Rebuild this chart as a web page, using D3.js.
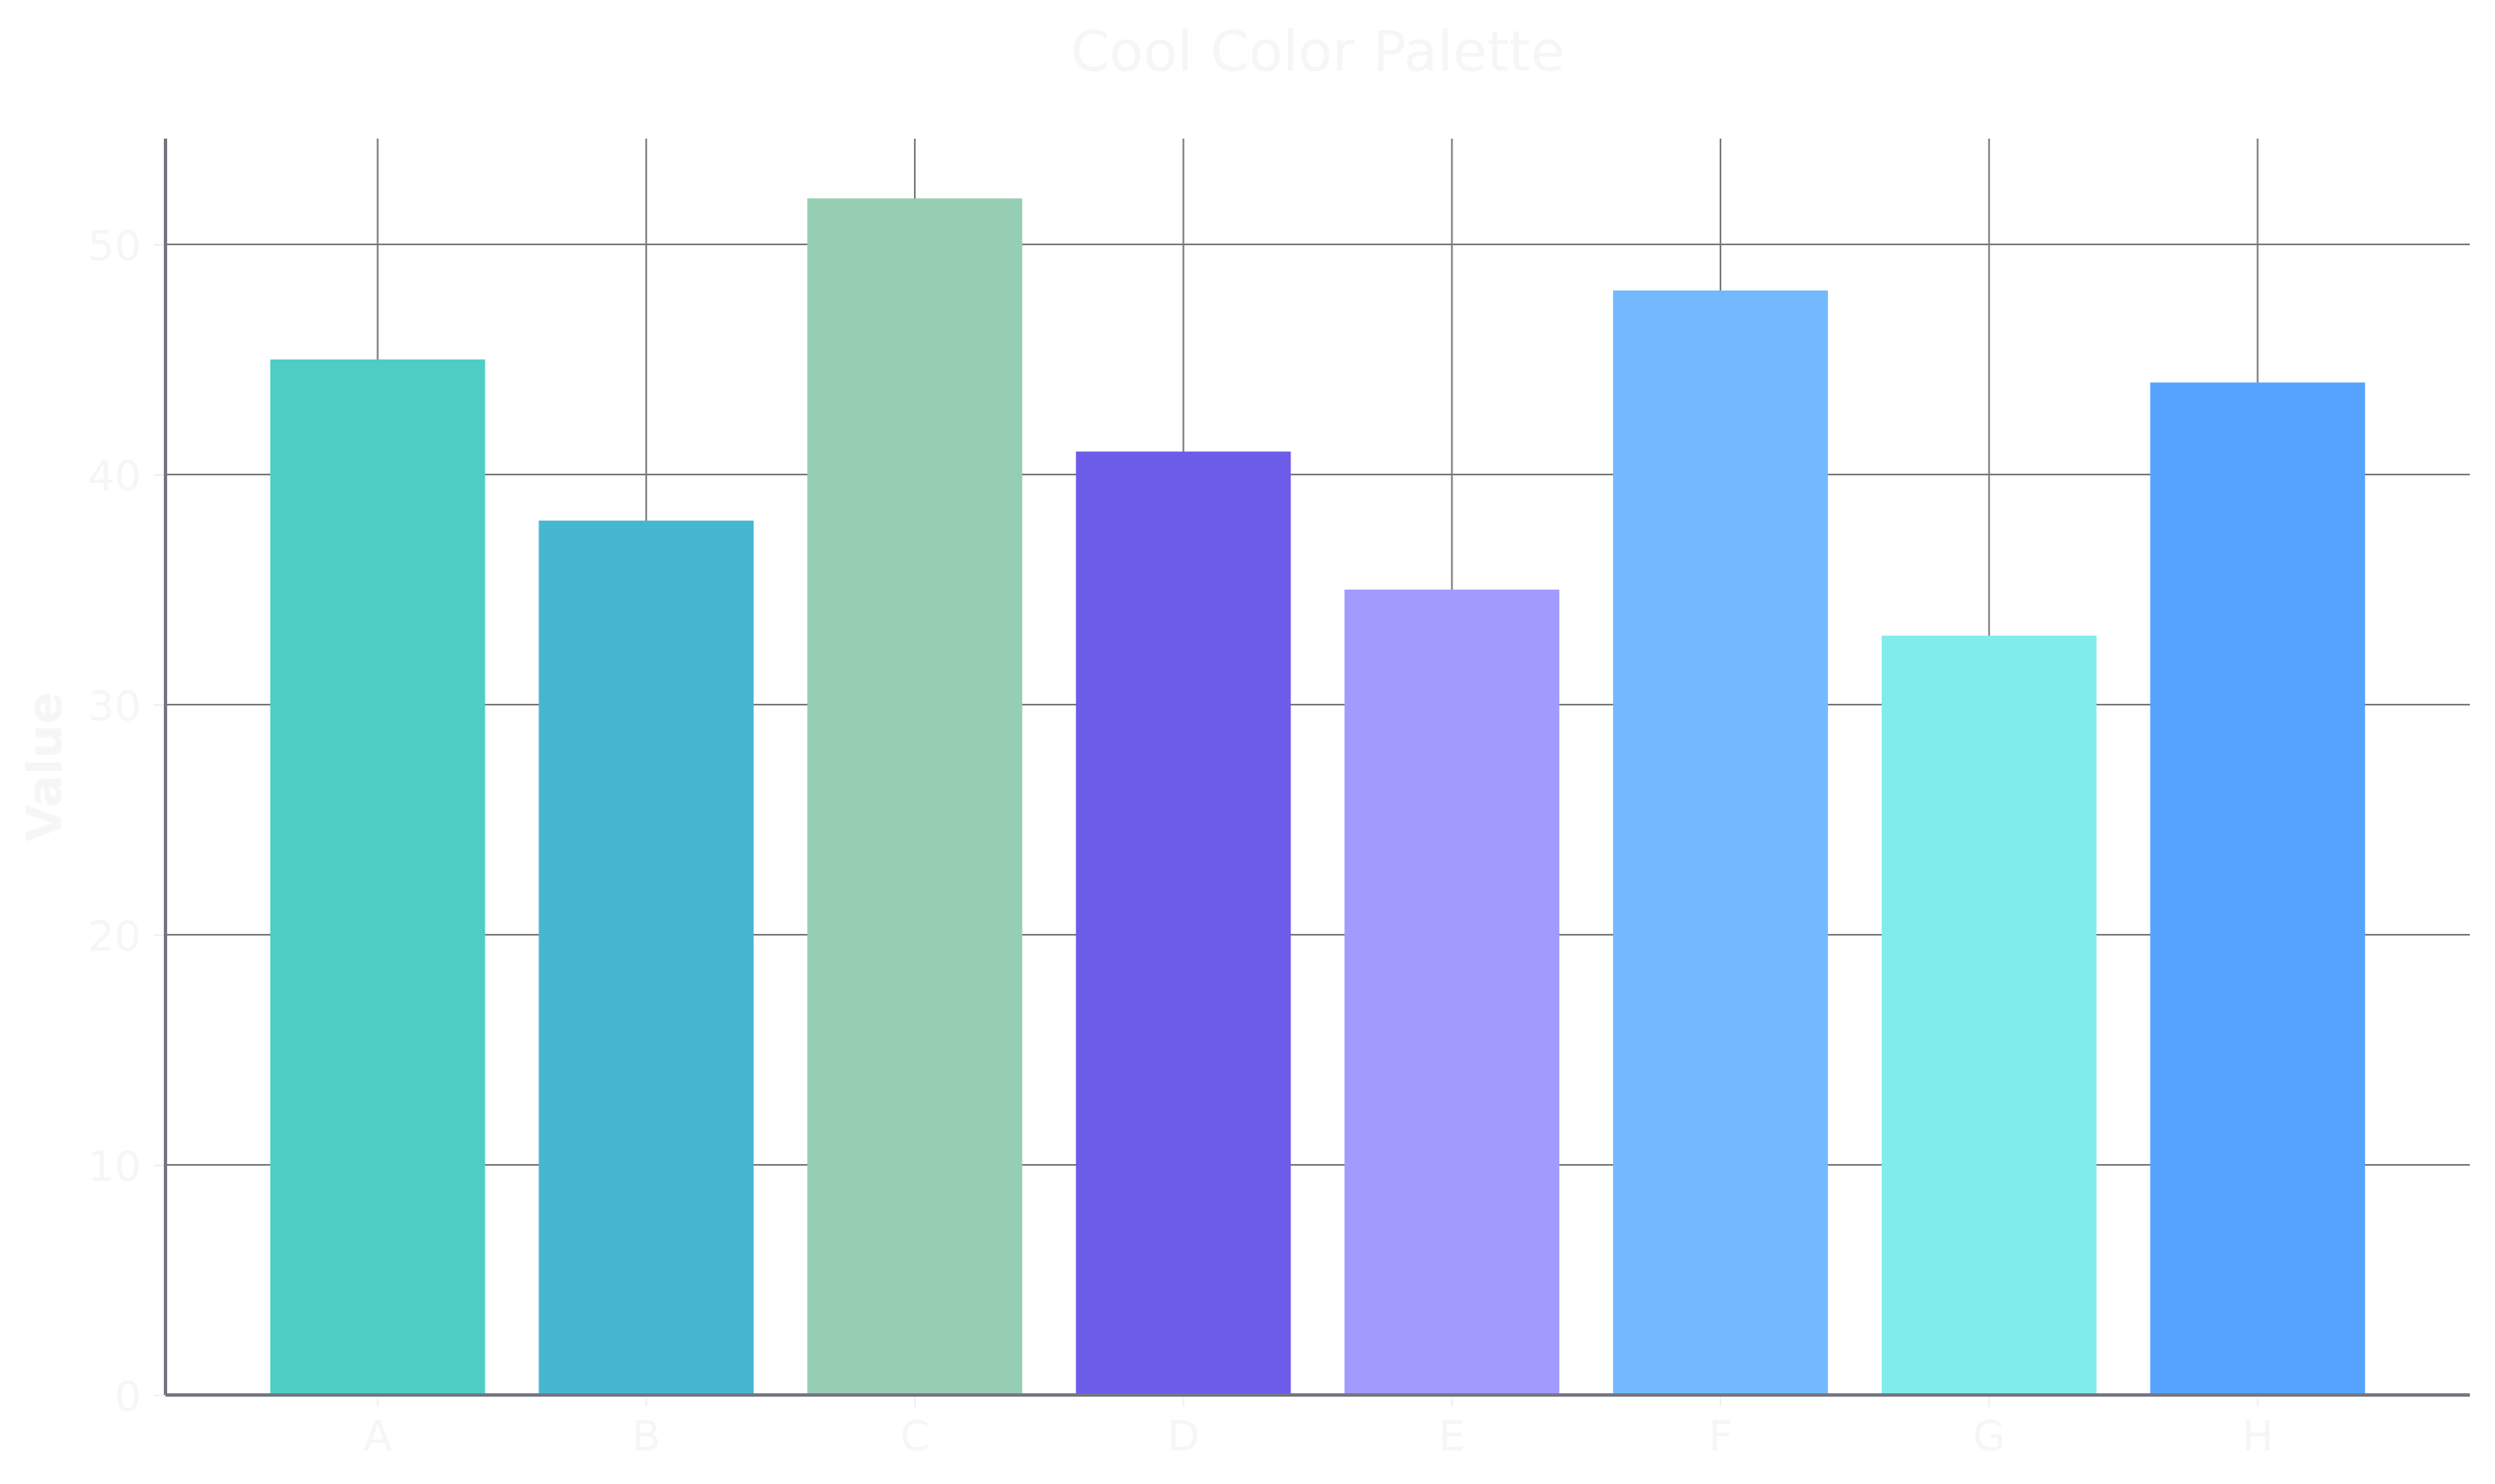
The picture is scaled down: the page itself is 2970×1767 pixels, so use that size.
<!DOCTYPE html>
<html>
<head>
<meta charset="utf-8">
<script src="https://cdn.jsdelivr.net/npm/d3@7"></script>
<style>
  body { margin: 0; background: #ffffff; }
  text { font-family: "DejaVu Sans", sans-serif; }
</style>
</head>
<body>
<div id="graph"></div>
<script>
// Chart data
var categories = ["A", "B", "C", "D", "E", "F", "G", "H"];
var values = [45, 38, 52, 41, 35, 48, 33, 44];
var colors = ["#4ECDC4", "#45B7D1", "#96CEB4", "#6C5CE7", "#A29BFE", "#74B9FF", "#81ECEC", "#55A3FF"];
var yTicks = [0, 10, 20, 30, 40, 50];
var title = "Cool Color Palette";
var yLabel = "Value";

// Set the dimensions of the canvas / graph
var margin = { top: 165, right: 30, bottom: 106, left: 197 },
    width = 2970 - margin.left - margin.right,
    height = 1767 - margin.top - margin.bottom;

var textColor = "#f6f6f6";

// Set the ranges
var x = d3.scaleBand()
    .domain(categories)
    .range([0, width])
    .paddingInner(0.2)
    .paddingOuter(0.39);
var y = d3.scaleLinear()
    .domain([0, d3.max(values) * 1.05])
    .range([height, 0]);

var svg = d3.select("#graph")
    .append("svg")
        .attr("width", width + margin.left + margin.right)
        .attr("height", height + margin.top + margin.bottom)
        .style("background", "#ffffff");

var g = svg.append("g")
    .attr("transform", "translate(" + margin.left + "," + margin.top + ")");

// Grid lines (behind bars)
g.append("g").selectAll("line.hgrid")
    .data(yTicks)
    .enter().append("line")
        .attr("x1", 0)
        .attr("x2", width)
        .attr("y1", function(d) { return y(d); })
        .attr("y2", function(d) { return y(d); })
        .attr("stroke", "#7a7a7a")
        .attr("stroke-width", 2);

g.append("g").selectAll("line.vgrid")
    .data(categories)
    .enter().append("line")
        .attr("x1", function(d) { return x(d) + x.bandwidth() / 2; })
        .attr("x2", function(d) { return x(d) + x.bandwidth() / 2; })
        .attr("y1", 0)
        .attr("y2", height)
        .attr("stroke", "#7a7a7a")
        .attr("stroke-width", 2);

// Bars
g.append("g").selectAll("rect")
    .data(values)
    .enter().append("rect")
        .attr("x", function(d, i) { return x(categories[i]); })
        .attr("y", function(d) { return y(d); })
        .attr("width", x.bandwidth())
        .attr("height", function(d) { return height - y(d); })
        .attr("fill", function(d, i) { return colors[i]; });

// X axis
var xAxis = g.append("g")
    .attr("transform", "translate(0," + height + ")")
    .call(d3.axisBottom(x).tickSize(14).tickPadding(16));
xAxis.select(".domain").remove();
xAxis.selectAll(".tick line").attr("stroke", "#f0f0f0").attr("stroke-width", 2);
xAxis.selectAll(".tick text")
    .attr("fill", textColor)
    .style("font-size", "50px");

// Y axis
var yAxis = g.append("g")
    .call(d3.axisLeft(y).tickValues(yTicks).tickSize(14).tickPadding(15));
yAxis.select(".domain").remove();
yAxis.selectAll(".tick line").attr("stroke", "#f0f0f0").attr("stroke-width", 2);
yAxis.selectAll(".tick text")
    .attr("fill", textColor)
    .attr("dy", "0.36em")
    .style("font-size", "50px");

// Spines
g.append("line")
    .attr("x1", 0).attr("x2", 0)
    .attr("y1", 0).attr("y2", height)
    .attr("stroke", "#767682")
    .attr("stroke-width", 4);
g.append("line")
    .attr("x1", 0).attr("x2", width)
    .attr("y1", height).attr("y2", height)
    .attr("stroke", "#767682")
    .attr("stroke-width", 4);

// Title
svg.append("text")
    .attr("x", margin.left + width / 2)
    .attr("y", 84)
    .attr("text-anchor", "middle")
    .attr("fill", textColor)
    .style("font-size", "66px")
    .text(title);

// Y axis label
svg.append("text")
    .attr("transform", "translate(73," + (margin.top + height / 2) + ") rotate(-90)")
    .attr("text-anchor", "middle")
    .attr("fill", textColor)
    .style("font-size", "57px")
    .style("font-weight", "bold")
    .text(yLabel);
</script>
</body>
</html>
